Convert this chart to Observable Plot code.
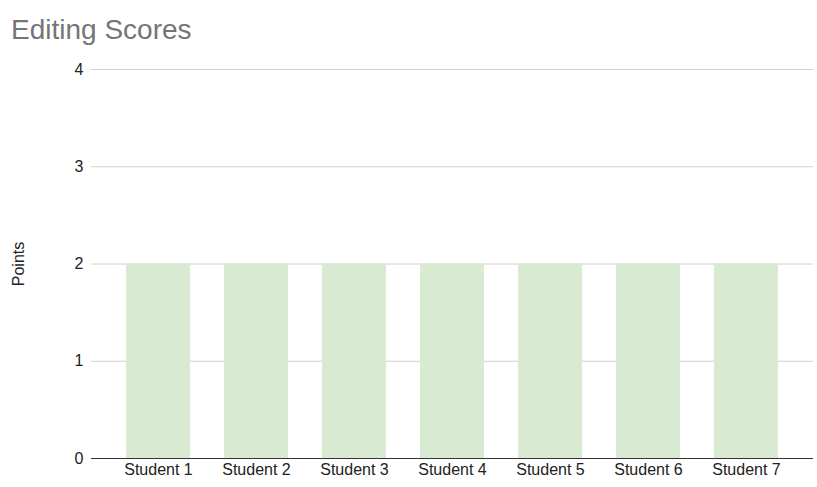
<!DOCTYPE html>
<html>
<head>
<meta charset="utf-8">
<script src="https://cdn.jsdelivr.net/npm/d3@7"></script>
<script src="https://cdn.jsdelivr.net/npm/@observablehq/plot@0.6"></script>
<style>
  body { margin: 0; background: #fff; font-family: "Liberation Sans", Arial, sans-serif; }
  #title { height: 48px; box-sizing: border-box; padding: 15px 0 0 11px; font-size: 28px; color: #757575; line-height: 30px; }
  #chart svg text { font-size: 16px !important; font-family: "Liberation Sans", Arial, sans-serif !important; fill: #222; }
</style>
</head>
<body>
<div id="title">Editing Scores</div>
<div id="chart"></div>
<script>
const students = ["Student 1", "Student 2", "Student 3", "Student 4", "Student 5", "Student 6", "Student 7"];
const points = [2, 2, 2, 2, 2, 2, 2];
const yTicks = [0, 1, 2, 3, 4];

const data = students.map((s, i) => ({student: s, points: points[i]}));

const chart = Plot.plot({
  width: 817,
  height: 439,
  marginLeft: 91,
  marginRight: 4,
  marginTop: 21,
  marginBottom: 29,
  style: {fontFamily: "'Liberation Sans', Arial, sans-serif", fontSize: "16px", color: "#222"},
  x: {domain: students, paddingInner: 0.347, paddingOuter: 0.357, label: null},
  y: {domain: [0, 4], label: "Points"},
  marks: [
    Plot.ruleY(yTicks.filter(d => d > 0), {stroke: "#d0d0d0", strokeWidth: 1}),
    Plot.barY(data, {x: "student", y: "points", fill: "#d9ead3"}),
    Plot.ruleY([0], {stroke: "#333", strokeWidth: 1}),
    Plot.axisX({tickSize: 0, tickPadding: 5, label: null}),
    Plot.axisY({ticks: yTicks, tickFormat: d3.format("d"), tickSize: 0, tickPadding: 8,
      label: "Points", labelAnchor: "center", labelArrow: "none", labelOffset: 79})
  ]
});
document.getElementById("chart").appendChild(chart);
</script>
</body>
</html>
